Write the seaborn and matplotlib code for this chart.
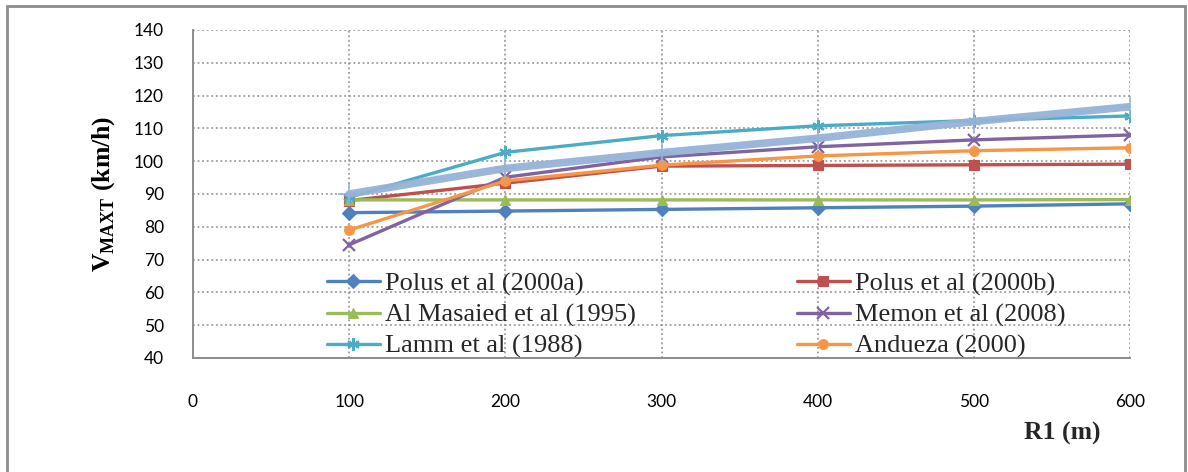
import matplotlib
matplotlib.use("Agg")
import matplotlib.pyplot as plt
import seaborn as sns
import pandas as pd
from matplotlib.patches import Rectangle

# ---- data ----
R1 = [100, 200, 300, 400, 500, 600]
polus_a = [84.3, 84.8, 85.3, 85.8, 86.3, 87.0]
polus_b = [88.0, 93.3, 98.5, 98.7, 98.9, 99.1]
al_masaied = [88.2, 88.2, 88.2, 88.2, 88.2, 88.3]
memon = [74.5, 95.1, 101.3, 104.4, 106.5, 108.0]
lamm = [89.0, 102.7, 107.8, 110.8, 112.4, 113.8]
andueza = [79.0, 94.0, 98.8, 101.6, 103.2, 104.1]
trend = [90.0, 97.8, 102.6, 107.0, 112.1, 116.6]

series_names = ["Polus et al (2000a)", "Polus et al (2000b)", "Al Masaied et al (1995)",
                "Memon et al (2008)", "Lamm et al (1988)", "Andueza (2000)"]
series_values = [polus_a, polus_b, al_masaied, memon, lamm, andueza]
x_ticks = [0, 100, 200, 300, 400, 500, 600]
y_ticks = [40, 50, 60, 70, 80, 90, 100, 110, 120, 130, 140]

colors = ["#4F81BD", "#C0504D", "#9BBB59", "#8064A2", "#4BACC6", "#F79646"]
markers = ["D", "s", "^", "x", (6, 2, 0), "o"]
msizes = [7, 7, 7, 8, 9, 7]

sns.set_theme(style="white")
plt.rcParams["font.family"] = ["Lato", "DejaVu Sans"]
plt.rcParams["mathtext.fontset"] = "custom"
plt.rcParams["mathtext.bf"] = "Liberation Serif:bold"
plt.rcParams["mathtext.rm"] = "Liberation Serif"

W, H = 1188, 472
fig = plt.figure(figsize=(W / 100, H / 100), dpi=100)
fig.patch.set_facecolor("white")
ax = fig.add_axes([193 / W, 1 - 358 / H, (1130 - 193) / W, (358 - 30) / H])

for name, vals, c, m, ms in zip(series_names, series_values, colors, markers, msizes):
    df = pd.DataFrame({"R1": R1, "V": vals})
    sns.lineplot(data=df, x="R1", y="V", ax=ax, color=c, lw=2.4, marker=m,
                 markersize=ms, markeredgecolor=c,
                 markeredgewidth=1.6 if m in ("x", (6, 2, 0)) else 0.8,
                 label=name, zorder=3)

dft = pd.DataFrame({"R1": R1, "V": trend})
sns.lineplot(data=dft, x="R1", y="V", ax=ax, color="#95B3D7", lw=5.5, marker="+",
             markersize=16, markeredgewidth=1.2, markeredgecolor="#95B3D7", alpha=0.95,
             zorder=4, label="_trend")

ax.set_xlim(0, 600)
ax.set_ylim(40, 140)
ax.set_xticks(x_ticks)
ax.set_yticks(y_ticks)
ax.tick_params(axis="both", which="both", direction="out", length=5, width=1.2,
               color="#8c8c8c", labelsize=12.5, labelcolor="black")
ax.tick_params(axis="y", pad=16)
ax.tick_params(axis="x", pad=21)

ax.grid(True, axis="both", linestyle=(0, (1.2, 1.8)), color="#8c8c8c", lw=1.1)
ax.set_axisbelow(True)
for s in ["top", "right"]:
    ax.spines[s].set_visible(False)
for s in ["left", "bottom"]:
    ax.spines[s].set_color("#8c8c8c")
    ax.spines[s].set_linewidth(1.4)

ax.set_xlabel("")
ax.set_ylabel(r"$\mathbf{V}_{\mathbf{MAXT}}$ (km/h)", fontfamily="Liberation Serif",
              fontweight="bold", fontsize=18.5, color="black")
ax.yaxis.set_label_coords((117 - 193) / (1130 - 193), 0.5)

fig.text(1100 / W, 1 - 433 / H, "R1 (m)", ha="right", va="center",
         fontfamily="Liberation Serif", fontweight="bold", fontsize=18.5)

# legend: column-wise order
h, l = ax.get_legend_handles_labels()
order = [0, 2, 4, 1, 3, 5]
leg = ax.legend([h[i] for i in order], [l[i] for i in order], ncol=2, frameon=False,
                loc="upper left", bbox_to_anchor=(327 / W, 1 - 272 / H),
                bbox_transform=fig.transFigure,
                prop={"family": "Liberation Serif", "size": 19},
                handlelength=2.0, handletextpad=0.2, columnspacing=6.1,
                labelspacing=0.28, borderpad=0, borderaxespad=0)

# outer chart border
fig.add_artist(Rectangle((7 / W, -0.2), (1185 - 7) / W, 1.2 - 6 / H,
                         transform=fig.transFigure, fill=False,
                         edgecolor="#8c8c8c", lw=2, clip_on=False))

fig.savefig("out.png", dpi=100)
